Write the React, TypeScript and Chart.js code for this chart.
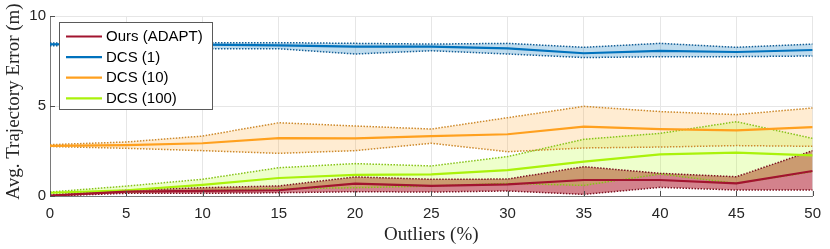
import { useEffect, useRef } from 'react';
import { Chart, registerables } from 'chart.js';
Chart.register(...registerables);

const outliers = [0, 5, 10, 15, 20, 25, 30, 35, 40, 45, 50];
const xTicks = [0, 5, 10, 15, 20, 25, 30, 35, 40, 45, 50];
const yTicks = [0, 5, 10];

const oursMean = [0.02, 0.24, 0.28, 0.32, 0.69, 0.56, 0.65, 0.89, 0.89, 0.7, 1.39];
const oursUpper = [0.05, 0.32, 0.46, 0.56, 1.06, 0.93, 0.94, 1.63, 1.26, 1.07, 2.52];
const oursLower = [0.0, 0.15, 0.15, 0.18, 0.24, 0.22, 0.28, 0.09, 0.48, 0.33, 0.33];

const dcs1Mean = [8.43, 8.42, 8.41, 8.37, 8.3, 8.3, 8.2, 7.93, 8.06, 8.0, 8.11];
const dcs1Upper = [8.5, 8.52, 8.52, 8.52, 8.48, 8.44, 8.48, 8.26, 8.48, 8.26, 8.44];
const dcs1Lower = [8.35, 8.3, 8.18, 8.18, 7.89, 8.07, 7.89, 7.69, 7.74, 7.74, 7.78];

const dcs10Mean = [2.79, 2.83, 2.93, 3.22, 3.2, 3.33, 3.43, 3.85, 3.72, 3.65, 3.83];
const dcs10Upper = [2.85, 3.0, 3.33, 4.07, 3.89, 3.72, 4.35, 4.98, 4.69, 4.52, 4.89];
const dcs10Lower = [2.75, 2.65, 2.52, 2.37, 2.52, 2.93, 2.46, 2.67, 2.72, 2.8, 2.76];

const dcs100Mean = [0.18, 0.32, 0.62, 1.0, 1.17, 1.2, 1.44, 1.91, 2.31, 2.41, 2.26];
const dcs100Upper = [0.22, 0.55, 0.93, 1.57, 1.8, 1.67, 2.19, 3.15, 3.48, 4.13, 3.2];
const dcs100Lower = [0.16, 0.22, 0.3, 0.4, 0.46, 0.55, 0.7, 0.59, 1.22, 0.7, 1.35];

const seriesLabels = ['Ours (ADAPT)', 'DCS (1)', 'DCS (10)', 'DCS (100)'];
const xTitle = 'Outliers (%)';
const yTitle = 'Avg. Trajectory Error (m)';

const RED = 'rgb(162,20,47)';
const BLUE = 'rgb(0,114,189)';
const ORANGE = 'rgb(255,160,30)';
const LIME = 'rgb(170,242,10)';

const SANS = '"Liberation Sans", Arial, sans-serif';
const SERIF = '"Liberation Serif", "Times New Roman", serif';

const toXY = (arr: number[]) => arr.map((v, i) => ({ x: outliers[i], y: v }));

const meanDs = (label: string, data: number[], color: string) => ({
  label,
  data: toXY(data),
  borderColor: color,
  backgroundColor: color,
  borderWidth: 2.2,
  pointRadius: 0,
  tension: 0,
  fill: false,
});

const bandDs = (label: string, data: number[], color: string, fillColor: string | null) => ({
  label,
  data: toXY(data),
  borderColor: color,
  backgroundColor: fillColor || 'rgba(0,0,0,0)',
  borderWidth: 1.5,
  borderDash: [1.5, 1.5],
  pointRadius: 0,
  tension: 0,
  fill: fillColor ? '+1' : false,
});

const tickMarks = {
  id: 'inwardTicks',
  afterDatasetsDraw(chart: any) {
    const { ctx, chartArea, scales } = chart;
    ctx.save();
    ctx.strokeStyle = '#4d4d4d';
    ctx.lineWidth = 1;
    ctx.beginPath();
    xTicks.forEach((t) => {
      const px = Math.round(scales.x.getPixelForValue(t)) + 0.5;
      ctx.moveTo(px, chartArea.bottom);
      ctx.lineTo(px, chartArea.bottom - 5);
    });
    yTicks.forEach((t) => {
      const py = Math.round(scales.y.getPixelForValue(t)) + 0.5;
      ctx.moveTo(chartArea.left, py);
      ctx.lineTo(chartArea.left + 5, py);
    });
    ctx.stroke();
    ctx.restore();
  },
};

const yTitlePlugin = {
  id: 'yTitle',
  afterDraw(chart: any) {
    const { ctx, chartArea } = chart;
    ctx.save();
    ctx.translate(14.5, (chartArea.top + chartArea.bottom) / 2 - 4.5);
    ctx.rotate(-Math.PI / 2);
    ctx.font = '19px ' + SERIF;
    ctx.fillStyle = '#262626';
    ctx.textAlign = 'center';
    ctx.textBaseline = 'middle';
    ctx.fillText(yTitle, 0, 0);
    ctx.restore();
  },
};

const insideLegend = {
  id: 'insideLegend',
  afterDraw(chart: any) {
    const { ctx, chartArea } = chart;
    const x0 = chartArea.left + 9;
    const y0 = chartArea.top + 6;
    const w = 153;
    const h = 87;
    ctx.save();
    ctx.fillStyle = '#ffffff';
    ctx.fillRect(x0, y0, w, h);
    ctx.strokeStyle = '#5a5a5a';
    ctx.lineWidth = 1;
    ctx.strokeRect(x0 + 0.5, y0 + 0.5, w, h);
    ctx.font = '15px ' + SANS;
    ctx.textBaseline = 'middle';
    ctx.textAlign = 'left';
    for (let i = 0; i < 4; i++) {
      const ds = chart.data.datasets[i];
      const y = y0 + 14.5 + i * 20.6;
      ctx.strokeStyle = ds.borderColor;
      ctx.lineWidth = 2.2;
      ctx.beginPath();
      ctx.moveTo(x0 + 7, y);
      ctx.lineTo(x0 + 43, y);
      ctx.stroke();
      ctx.fillStyle = '#000000';
      ctx.fillText(ds.label, x0 + 47, y + 0.5);
    }
    ctx.restore();
  },
};

export default function App() {
  const canvasRef = useRef<HTMLCanvasElement | null>(null);

  useEffect(() => {
    document.body.style.margin = '0';
    const canvas = canvasRef.current;
    if (!canvas) return;
    const chart = new Chart(canvas, {
      type: 'line',
      data: {
        datasets: [
          meanDs(seriesLabels[0], oursMean, RED),
          meanDs(seriesLabels[1], dcs1Mean, BLUE),
          meanDs(seriesLabels[2], dcs10Mean, ORANGE),
          meanDs(seriesLabels[3], dcs100Mean, LIME),
          bandDs('DCS (100) upper', dcs100Upper, 'rgb(135,195,25)', 'rgba(170,255,0,0.2)'),
          bandDs('DCS (100) lower', dcs100Lower, 'rgb(135,195,25)', null),
          bandDs('DCS (10) upper', dcs10Upper, 'rgb(205,138,45)', 'rgba(255,160,30,0.2)'),
          bandDs('DCS (10) lower', dcs10Lower, 'rgb(205,138,45)', null),
          bandDs('DCS (1) upper', dcs1Upper, 'rgb(20,95,150)', 'rgba(0,114,189,0.25)'),
          bandDs('DCS (1) lower', dcs1Lower, 'rgb(20,95,150)', null),
          bandDs('Ours upper', oursUpper, 'rgb(125,20,35)', 'rgba(168,5,25,0.5)'),
          bandDs('Ours lower', oursLower, 'rgb(125,20,35)', null),
        ] as any,
      },
      options: {
        responsive: false,
        animation: false,
        devicePixelRatio: 1,
        layout: { padding: { left: 0, right: 13, top: 16, bottom: 0 } },
        plugins: {
          legend: { display: false },
          tooltip: { enabled: false },
          filler: { drawTime: 'beforeDatasetsDraw' } as any,
        },
        scales: {
          x: {
            type: 'linear',
            min: 0,
            max: 50,
            afterFit: (s: any) => { s.height = 53; },
            afterBuildTicks: (s: any) => { s.ticks = xTicks.map((v) => ({ value: v })); },
            grid: { color: '#e6e6e6', lineWidth: 1, drawTicks: false },
            border: { display: true, color: '#7a7a7a', width: 1 },
            ticks: {
              padding: 9,
              color: '#262626',
              font: { family: SANS, size: 15 },
              maxRotation: 0,
            },
            title: {
              display: true,
              text: xTitle,
              color: '#262626',
              font: { family: SERIF, size: 19 },
              padding: { top: 0, bottom: 3 },
            },
          },
          y: {
            type: 'linear',
            min: 0,
            max: 10,
            afterFit: (s: any) => { s.width = 50; },
            afterBuildTicks: (s: any) => { s.ticks = yTicks.map((v) => ({ value: v })); },
            grid: { color: '#e6e6e6', lineWidth: 1, drawTicks: false },
            border: { display: true, color: '#7a7a7a', width: 1 },
            ticks: {
              padding: 4,
              color: '#262626',
              font: { family: SANS, size: 15 },
            },
            title: { display: false, text: yTitle },
          },
        },
      },
      plugins: [tickMarks, yTitlePlugin, insideLegend],
    });
    return () => chart.destroy();
  }, []);

  return (
    <div style={{ width: 830, height: 249 }}>
      <canvas ref={canvasRef} width={830} height={249} />
    </div>
  );
}
